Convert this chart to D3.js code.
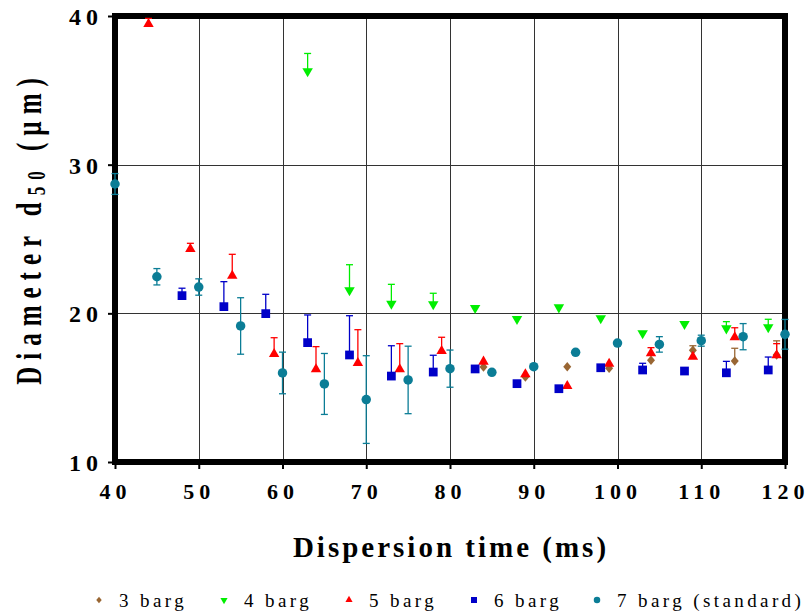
<!DOCTYPE html>
<html>
<head>
<meta charset="utf-8">
<script src="https://cdn.jsdelivr.net/npm/d3@7"></script>
<style>
  html, body { margin: 0; padding: 0; background: #fff; }
  svg { display: block; }
  text { font-family: "Liberation Serif", "Times New Roman", serif; fill: #000; }
</style>
</head>
<body>
<svg id="chart" width="811" height="612"></svg>
<script>
// ---- Data ----
const seriesNames = ["3 barg", "4 barg", "5 barg", "6 barg", "7 barg (standard)"];

const times3 = [84, 89, 94, 99, 104, 109, 114, 119];
const d50_3  = [16.39, 15.72, 16.41, 16.30, 16.84, 17.51, 16.79, 17.20];
const err_3  = [0, 0, 0, 0, 0, 0.31, 0.86, 0.95];

const times4 = [63, 68, 73, 78, 83, 88, 93, 98, 103, 108, 113, 118];
const d50_4  = [36.28, 21.55, 20.65, 20.61, 20.36, 19.62, 20.40, 19.67, 18.66, 19.28, 18.99, 19.06];
const err_4  = [1.20, 1.72, 1.30, 0.74, 0, 0, 0, 0, 0, 0, 0.45, 0.54];

const times5 = [44, 49, 54, 59, 64, 69, 74, 79, 84, 89, 94, 99, 104, 109, 114, 119];
const d50_5  = [39.46, 24.33, 22.53, 17.26, 16.24, 16.66, 16.24, 17.47, 16.75, 15.90, 15.11, 16.61, 17.31, 17.08, 18.39, 17.18];
const err_5  = [0.38, 0.38, 1.44, 1.10, 1.52, 2.24, 1.72, 0.92, 0, 0, 0, 0, 0.38, 0, 0.64, 0.78];

const times6 = [48, 53, 58, 63, 68, 73, 78, 83, 88, 93, 98, 103, 108, 113, 118];
const d50_6  = [21.19, 20.45, 19.98, 18.03, 17.20, 15.78, 16.05, 16.26, 15.27, 14.93, 16.34, 16.19, 16.12, 16.00, 16.19];
const err_6  = [0.50, 1.68, 1.30, 1.86, 2.64, 2.04, 1.13, 0, 0, 0, 0, 0.45, 0, 0.77, 0.87];

const times7 = [40, 45, 50, 55, 60, 65, 70, 75, 80, 85, 90, 95, 100, 105, 110, 115, 120];
const d50_7  = [28.70, 22.46, 21.77, 19.15, 15.99, 15.25, 14.20, 15.52, 16.28, 16.03, 16.41, 17.38, 18.00, 17.91, 18.16, 18.43, 18.59];
const err_7  = [0.70, 0.55, 0.55, 1.90, 1.40, 2.05, 2.95, 2.27, 1.25, 0, 0, 0, 0, 0.52, 0.37, 0.88, 1.00];

const xTicks = [40, 50, 60, 70, 80, 90, 100, 110, 120];
const yTicks = [10, 20, 30, 40];

// ---- Styling ----
const colors  = ["#996633", "#00ee00", "#ff0000", "#0000c8", "#0b7d96"];
const shapes  = ["diamond", "down", "up", "square", "circle"];
const bothSidedErr = [false, false, false, false, true];

const series = [
  {t: times3, v: d50_3, e: err_3},
  {t: times4, v: d50_4, e: err_4},
  {t: times5, v: d50_5, e: err_5},
  {t: times6, v: d50_6, e: err_6},
  {t: times7, v: d50_7, e: err_7}
].map((s, i) => ({
  name: seriesNames[i], color: colors[i], shape: shapes[i], both: bothSidedErr[i],
  points: s.t.map((t, j) => ({t, v: s.v[j], e: s.e[j]}))
}));

const svg = d3.select("#chart");
const x = d3.scaleLinear().domain([40, 120]).range([115, 785]);
const y = d3.scaleLinear().domain([10, 40]).range([462, 16]);

function symbolPath(shape, s) {
  if (shape === "circle") return d3.symbol(d3.symbolCircle, Math.PI * (s / 2) * (s / 2))();
  if (shape === "square") return d3.symbol(d3.symbolSquare, s * s * 0.85)();
  if (shape === "up" || shape === "down") return d3.symbol(d3.symbolTriangle, 0.433 * (s * 1.1) * (s * 1.1))();
  if (shape === "diamond") {
    const h = s * 0.5, w = s * 0.42;
    return `M0,${-h}L${w},0L0,${h}L${-w},0Z`;
  }
}

// Gridlines
const grid = svg.append("g");
grid.selectAll("line.vg").data(xTicks.filter(d => d > 40 && d < 120)).join("line")
  .attr("x1", d => Math.round(x(d)) + 0.5).attr("x2", d => Math.round(x(d)) + 0.5)
  .attr("y1", y(40)).attr("y2", y(10))
  .attr("stroke", "#333").attr("stroke-width", 1);
grid.selectAll("line.hg").data(yTicks.filter(d => d > 10 && d < 40)).join("line")
  .attr("y1", d => Math.round(y(d)) + 0.5).attr("y2", d => Math.round(y(d)) + 0.5)
  .attr("x1", x(40)).attr("x2", x(120))
  .attr("stroke", "#333").attr("stroke-width", 1);

// Axes (ticks + labels)
const xAxis = d3.axisBottom(x).tickValues(xTicks).tickSize(7).tickPadding(14).tickFormat(d3.format("d"));
const gx = svg.append("g").attr("transform", `translate(0,${y(10)})`).call(xAxis);
gx.select(".domain").remove();
gx.selectAll(".tick line").attr("stroke", "#000").attr("stroke-width", 2);
gx.selectAll(".tick text").attr("font-size", 22).attr("font-weight", "bold")
  .attr("letter-spacing", "5px").attr("font-family", "Liberation Serif, serif");

const yAxis = d3.axisLeft(y).tickValues(yTicks).tickSize(7).tickPadding(5).tickFormat(d3.format("d"));
const gy = svg.append("g").attr("transform", `translate(${x(40)},0)`).call(yAxis);
gy.select(".domain").remove();
gy.selectAll(".tick line").attr("stroke", "#000").attr("stroke-width", 2);
gy.selectAll(".tick text").attr("font-size", 24).attr("font-weight", "bold")
  .attr("letter-spacing", "5px").attr("font-family", "Liberation Serif, serif")
  .attr("dy", "0.36em");

// Frame
svg.append("rect")
  .attr("x", x(40)).attr("y", y(40))
  .attr("width", x(120) - x(40)).attr("height", y(10) - y(40))
  .attr("fill", "none").attr("stroke", "#000").attr("stroke-width", 6);

// Series
const capW = 3.5;
series.forEach(s => {
  const g = svg.append("g");
  const withErr = s.points.filter(p => p.e > 0);
  g.selectAll("line.eb").data(withErr).join("line")
    .attr("x1", p => x(p.t)).attr("x2", p => x(p.t))
    .attr("y1", p => y(p.v + p.e)).attr("y2", p => s.both ? y(p.v - p.e) : y(p.v))
    .attr("stroke", s.color).attr("stroke-width", 1.3);
  g.selectAll("line.capT").data(withErr).join("line")
    .attr("x1", p => x(p.t) - capW).attr("x2", p => x(p.t) + capW)
    .attr("y1", p => y(p.v + p.e)).attr("y2", p => y(p.v + p.e))
    .attr("stroke", s.color).attr("stroke-width", 1.3);
  if (s.both) {
    g.selectAll("line.capB").data(withErr).join("line")
      .attr("x1", p => x(p.t) - capW).attr("x2", p => x(p.t) + capW)
      .attr("y1", p => y(p.v - p.e)).attr("y2", p => y(p.v - p.e))
      .attr("stroke", s.color).attr("stroke-width", 1.3);
  }
  g.selectAll("path.m").data(s.points).join("path")
    .attr("d", symbolPath(s.shape, 9.5))
    .attr("transform", p => `translate(${x(p.t)},${y(p.v)})${s.shape === "down" ? " rotate(180)" : ""}`)
    .attr("fill", s.color);
});

// Axis titles
svg.append("text")
  .attr("x", 451).attr("y", 557)
  .attr("text-anchor", "middle")
  .attr("font-size", 29).attr("font-weight", "bold").attr("letter-spacing", "3px")
  .text("Dispersion time (ms)");

const yt = svg.append("text")
  .attr("transform", "translate(41,228) rotate(-90) scale(1,1.45)")
  .attr("text-anchor", "middle")
  .attr("font-size", 25).attr("font-weight", "bold").attr("letter-spacing", "7px");
yt.append("tspan").text("Diameter d");
yt.append("tspan").attr("font-size", 17).attr("dy", 3).text("50");
yt.append("tspan").attr("dy", -3).text(" (\u00b5m)");

// Legend
const legendX = [99, 224, 349, 474, 597];
const legend = svg.append("g");
series.forEach((s, i) => {
  const lg = legend.append("g").attr("transform", `translate(${legendX[i]},600)`);
  lg.append("path").attr("d", symbolPath(s.shape, 6.5))
    .attr("transform", s.shape === "down" ? "rotate(180)" : null)
    .attr("fill", s.color);
  lg.append("text").attr("x", 20).attr("y", 7)
    .attr("font-size", 19).attr("letter-spacing", "3.4px")
    .text(s.name);
});
</script>
</body>
</html>
